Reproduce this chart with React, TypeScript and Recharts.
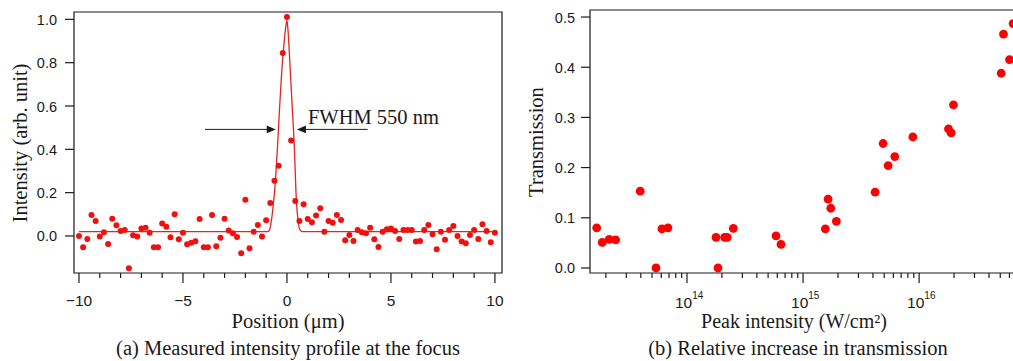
import React from "react";
import {
    ComposedChart, Scatter, Line, XAxis, YAxis, ReferenceLine, ReferenceArea,
} from "recharts";

const SERIF = '"Liberation Serif", "Times New Roman", serif';
const SANS = '"Liberation Sans", Arial, sans-serif';
const INK = "#1a1a1a";

// ── (a) measured intensity profile ──
const positions = [
    -10, -9.8, -9.6, -9.4, -9.2, -9, -8.8, -8.6, -8.4, -8.2,
    -8, -7.8, -7.6, -7.4, -7.2, -7, -6.8, -6.6, -6.4, -6.2,
    -6, -5.8, -5.6, -5.4, -5.2, -5, -4.8, -4.6, -4.4, -4.2,
    -4, -3.8, -3.6, -3.4, -3.2, -3, -2.8, -2.6, -2.4, -2.2,
    -2, -1.8, -1.6, -1.4, -1.2, -1, -0.8, -0.6, -0.4, -0.2,
    0, 0.2, 0.4, 0.6, 0.8, 1, 1.2, 1.4, 1.6, 1.8,
    2, 2.2, 2.4, 2.6, 2.8, 3, 3.2, 3.4, 3.6, 3.8,
    4, 4.2, 4.4, 4.6, 4.8, 5, 5.2, 5.4, 5.6, 5.8,
    6, 6.2, 6.4, 6.6, 6.8, 7, 7.2, 7.4, 7.6, 7.8,
    8, 8.2, 8.4, 8.6, 8.8, 9, 9.2, 9.4, 9.6, 9.8,
    10,
];
const intensities = [
    0.0, -0.052, -0.014, 0.097, 0.069, -0.003, 0.017, -0.037, 0.08, 0.049,
    0.023, 0.028, -0.149, 0.003, -0.003, 0.035, 0.038, 0.015, -0.052, -0.052,
    0.058, 0.043, -0.006, 0.1, -0.015, 0.015, -0.038, -0.031, -0.024, 0.078,
    -0.052, -0.052, 0.097, -0.047, -0.008, 0.08, 0.025, 0.012, -0.005, -0.08,
    0.167, -0.057, 0.02, 0.051, -0.003, 0.072, 0.152, 0.255, 0.324, 0.845,
    1.011, 0.441, 0.161, 0.069, 0.146, 0.078, 0.063, 0.094, 0.128, 0.02,
    0.069, 0.061, 0.097, 0.074, -0.02, 0.005, -0.023, 0.028, 0.017, 0.012,
    0.038, -0.015, -0.051, 0.02, 0.031, 0.035, 0.023, -0.014, 0.028, 0.028,
    0.028, -0.026, -0.023, 0.028, 0.051, 0.008, -0.061, 0.02, -0.018, 0.028,
    0.046, 0.0, -0.026, -0.034, 0.005, 0.028, -0.014, 0.054, 0.023, -0.029,
    0.015,
];
// gaussian fit line
const fitX = [-10, -0.95, -0.85, -0.75, -0.65, -0.55, -0.45, -0.35, -0.25, -0.15, -0.05, 0, 0.05, 0.15, 0.25, 0.35, 0.45, 0.55, 0.65, 0.75, 10];
const fitY = [0.02, 0.02, 0.025, 0.07, 0.15, 0.26, 0.42, 0.6, 0.76, 0.88, 0.97, 0.995, 0.95, 0.78, 0.6, 0.42, 0.17, 0.06, 0.025, 0.02, 0.02];
const posTicks = [-10, -9, -8, -7, -6, -5, -4, -3, -2, -1, 0, 1, 2, 3, 4, 5, 6, 7, 8, 9, 10];
const intensityTicks = [0, 0.2, 0.4, 0.6, 0.8, 1.0];
const POS_DOMAIN: [number, number] = [-10.24, 10.34];
const INT_DOMAIN: [number, number] = [-0.171, 1.034];

// ── (b) transmission vs peak intensity ──
const peakIntensity = [
    1.667e13, 1.862e13, 2.138e13, 2.427e13, 3.954e13, 5.408e13, 6.081e13, 6.855e13,
    1.778e14, 1.849e14, 2.113e14, 2.223e14, 2.506e14, 5.848e14, 6.457e14,
    1.556e15, 1.644e15, 1.734e15, 1.936e15, 4.178e15, 4.898e15, 5.408e15, 6.166e15, 8.831e15,
    1.791e16, 1.888e16, 1.977e16, 5.093e16, 5.333e16, 6.012e16, 6.45e16,
];
const transmission = [
    0.08, 0.051, 0.057, 0.056, 0.153, 0.0, 0.078, 0.08,
    0.061, 0.0, 0.061, 0.061, 0.079, 0.064, 0.047,
    0.078, 0.137, 0.119, 0.093, 0.151, 0.248, 0.204, 0.222, 0.261,
    0.277, 0.269, 0.325, 0.388, 0.466, 0.415, 0.487,
];
const decades = [13, 14, 15, 16];
const mantissas = [1, 2, 3, 4, 5, 6, 7, 8, 9];
const transTicks = [0, 0.1, 0.2, 0.3, 0.4, 0.5];
const PEAK_DOMAIN: [number, number] = [1.46e13, 7.4e16];
const TRANS_DOMAIN: [number, number] = [-0.01, 0.514];

const profileData = positions.map((x, i) => ({ x, y: intensities[i] }));
const fitData = fitX.map((x, i) => ({ x, y: fitY[i] }));
const transData = peakIntensity.map((x, i) => ({ x, y: transmission[i] }));
const logTicks = decades
    .flatMap((d) => mantissas.map((m) => m * Math.pow(10, d)))
    .filter((v) => v >= PEAK_DOMAIN[0] && v <= PEAK_DOMAIN[1]);

function PosTick({ x, y, payload }: any) {
    const v = payload.value;
    const major = v % 5 === 0;
    return (
        <g>
            <line x1={x} x2={x} y1={y} y2={y + (major ? 10 : 5)} stroke={INK} strokeWidth={1.2} />
            {major && (
                <text x={x} y={y + 33} textAnchor="middle" fontFamily={SANS} fontSize={15.5} fill={INK}>
                    {v < 0 ? "\u2212" + Math.abs(v) : String(v)}
                </text>
            )}
        </g>
    );
}

function LogTick({ x, y, payload }: any) {
    const v = payload.value;
    const e = Math.round(Math.log10(v));
    const major = Math.abs(Math.log10(v) - e) < 1e-6;
    return (
        <g>
            <line x1={x} x2={x} y1={y} y2={y + (major ? 10 : 5)} stroke={INK} strokeWidth={1.2} />
            {major && (
                <text x={x - 12} y={y + 35} fontFamily={SANS} fontSize={15.5} fill={INK}>
                    10<tspan dy={-9} fontSize={10}>{e}</tspan>
                </text>
            )}
        </g>
    );
}

function ValueTick({ x, y, payload, gap }: any) {
    return (
        <g>
            <line x1={x - 9} x2={x} y1={y} y2={y} stroke={INK} strokeWidth={1.2} />
            <text x={x - gap} y={y + 5.5} textAnchor="end" fontFamily={SANS} fontSize={14.5} fill={INK}>
                {payload.value.toFixed(1)}
            </text>
        </g>
    );
}

function arrowShape(label?: string) {
    return (p: any) => {
        const { x1, y1, x2, y2 } = p;
        const dir = Math.sign(x2 - x1);
        return (
            <g>
                <line x1={x1} y1={y1} x2={x2 - dir * 8} y2={y2} stroke={INK} strokeWidth={1} />
                <polygon points={`${x2},${y2} ${x2 - dir * 9},${y2 - 3.8} ${x2 - dir * 9},${y2 + 3.8}`} fill={INK} />
                {label && (
                    <text x={x2 + 11} y={y2 - 5} fontFamily={SERIF} fontSize={20.5} fill={INK}>{label}</text>
                )}
            </g>
        );
    };
}

const dotA = (p: any) => <circle cx={p.cx} cy={p.cy} r={3} fill="#f01010" />;
const dotB = (p: any) => <circle cx={p.cx} cy={p.cy} r={4.4} fill="#ff0000" />;

export default function App() {
    return (
        <div style={{ position: "absolute", left: 0, top: 0, width: 1013, height: 361, overflow: "hidden", background: "#fff" }}>
            <div style={{ position: "absolute", left: 0, top: 0 }}>
                <ComposedChart width={520} height={361} margin={{ top: 12, right: 18, bottom: 0, left: 0 }}>
                    <XAxis
                        dataKey="x" type="number" domain={POS_DOMAIN} allowDataOverflow
                        ticks={posTicks} interval={0} height={88}
                        axisLine={false} tickLine={false} tickSize={0} tickMargin={0}
                        tick={<PosTick />}
                    />
                    <YAxis
                        dataKey="y" type="number" domain={INT_DOMAIN} allowDataOverflow
                        ticks={intensityTicks} interval={0} width={74}
                        axisLine={false} tickLine={false} tickSize={0} tickMargin={0}
                        tick={<ValueTick gap={17} />}
                    />
                    <ReferenceArea
                        x1={POS_DOMAIN[0]} x2={POS_DOMAIN[1]} y1={INT_DOMAIN[0]} y2={INT_DOMAIN[1]}
                        fill="none" stroke={INK} strokeWidth={1.2} ifOverflow="visible"
                    />
                    <Line
                        data={fitData} dataKey="y" type="monotone" stroke="#e02525" strokeWidth={1.3}
                        dot={false} activeDot={false} isAnimationActive={false}
                    />
                    <Scatter data={profileData} dataKey="y" shape={dotA} isAnimationActive={false} />
                    <ReferenceLine segment={[{ x: -3.94, y: 0.492 }, { x: -0.54, y: 0.492 }]} shape={arrowShape()} />
                    <ReferenceLine segment={[{ x: 3.88, y: 0.492 }, { x: 0.48, y: 0.492 }]} shape={arrowShape("FWHM 550 nm")} />
                </ComposedChart>
            </div>
            <div style={{ position: "absolute", left: 520, top: 0 }}>
                <ComposedChart width={520} height={361} margin={{ top: 10, right: 20, bottom: 0, left: 0 }}>
                    <XAxis
                        dataKey="x" type="number" scale="log" domain={PEAK_DOMAIN} allowDataOverflow
                        ticks={logTicks} interval={0} height={88}
                        axisLine={false} tickLine={false} tickSize={0} tickMargin={0}
                        tick={<LogTick />}
                    />
                    <YAxis
                        dataKey="y" type="number" domain={TRANS_DOMAIN} allowDataOverflow
                        ticks={transTicks} interval={0} width={70}
                        axisLine={false} tickLine={false} tickSize={0} tickMargin={0}
                        tick={<ValueTick gap={15} />}
                    />
                    <ReferenceArea
                        x1={PEAK_DOMAIN[0]} x2={PEAK_DOMAIN[1]} y1={TRANS_DOMAIN[0]} y2={TRANS_DOMAIN[1]}
                        fill="none" stroke={INK} strokeWidth={1.2} ifOverflow="visible"
                    />
                    <Scatter data={transData} dataKey="y" shape={dotB} isAnimationActive={false} />
                </ComposedChart>
            </div>
            <svg width={1013} height={361} style={{ position: "absolute", left: 0, top: 0, pointerEvents: "none" }}>
                <g fontFamily={SERIF} fontSize={20.5} fill={INK}>
                    <text transform="translate(26.5,143) rotate(-90)" textAnchor="middle">Intensity (arb. unit)</text>
                    <text x={288} y={328} textAnchor="middle">Position (μm)</text>
                    <text x={288} y={355} textAnchor="middle">(a) Measured intensity profile at the focus</text>
                    <text transform="translate(543,142) rotate(-90)" textAnchor="middle">Transmission</text>
                    <text x={794} y={328} fontSize={20} textAnchor="middle">Peak intensity (W/cm²)</text>
                    <text x={798} y={355} textAnchor="middle">(b) Relative increase in transmission</text>
                </g>
            </svg>
        </div>
    );
}
